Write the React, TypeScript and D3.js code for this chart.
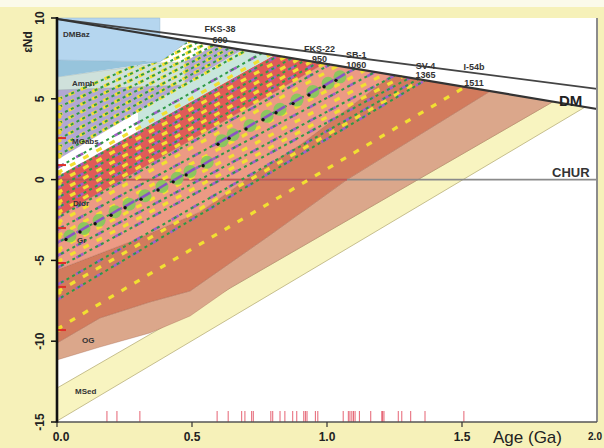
import React from 'react';
import * as d3 from 'd3';

const W = 604;
const H = 448;

// axes
const ageDomain: [number, number] = [0, 2.0];
const epsDomain: [number, number] = [-15, 10];
const xTicks = [0, 0.5, 1.0, 1.5];
const xTickLabels = ['0.0', '0.5', '1.0', '1.5'];
const yTicks = [10, 5, 0, -5, -10, -15];

// reference curves [age Ga, eNd]
const dmLower = [[0, 9.94], [2.0, 4.37]];
const dmUpper = [[0, 9.94], [2.0, 5.61]];
const churLine = [[0, 0], [2.0, 0]];
const churRed = [[0, 0], [1.074, 0]];

// field polygons [age Ga, eNd]
const msedBand = [[0, -12.9], [1.837, 4.82], [1.956, 4.49], [0, -14.94]];
const ogBand = [[0, -10.11], [0.159, -8.56], [0.344, -7.57], [0.493, -6.89], [0.789, -3.43], [1.074, 0], [1.604, 5.47], [1.837, 4.82], [0.641, -6.71], [0.493, -8.44], [0.344, -9.49], [0.159, -10.36], [0, -11.16]];
const orangeBand = [[0, -5.59], [0.27, -3.86], [0.53, -2.0], [0.752, 0.59], [0.9, 2.14], [1.241, 6.48], [1.604, 5.47], [1.074, 0], [0.789, -3.43], [0.493, -6.89], [0.344, -7.57], [0.159, -8.56], [0, -10.11]];
const salmonBand = [[0, -2.31], [0.989, 7.19], [1.241, 6.48], [0.9, 2.14], [0.752, 0.59], [0.53, -2.0], [0.27, -3.86], [0, -5.59]];
const redBand = [[0, 0.16], [0.804, 7.70], [0.989, 7.19], [0, -2.31]];
const aquaBand = [[0.3, 4.20], [0.685, 8.03], [0.804, 7.70], [0.3, 2.97]];
const mgabsBand = [[0, 5.79], [0.344, 6.16], [0.585, 8.31], [0.685, 8.03], [0, 1.21]];
const amphBand = [[0, 6.35], [0.381, 7.22], [0.474, 7.28], [0.474, 5.85], [0, 5.54]];
const darkBlueBand = [[0, 7.40], [0.381, 7.28], [0, 6.35]];
const dmbazBand = [[0, 10], [0.381, 10], [0.381, 8.87], [0.481, 8.51], [0.381, 7.28], [0, 7.40]];

// evolution lines: [eNd at 0 Ga, age where it meets DM]
const gabbroLines = [[4.93, 0.493], [4.43, 0.522], [3.94, 0.552], [3.44, 0.581], [2.95, 0.611], [2.45, 0.641], [1.96, 0.670], [1.46, 0.700]];
const graniteLines = [[0.72, 0.759], [0.10, 0.819], [-0.52, 0.870], [-1.14, 0.919], [-1.76, 0.967], [-2.38, 1.011], [-3.12, 1.104], [-3.92, 1.178], [-4.73, 1.252], [-5.47, 1.307], [-6.52, 1.337], [-7.45, 1.363]];
const yellowLines = [[0.41, 0.79], [-0.21, 0.845], [-0.83, 0.895], [-1.45, 0.943], [-2.07, 0.99], [-2.69, 1.04], [-3.50, 1.14], [-4.36, 1.215], [-5.10, 1.28], [-6.96, 1.35], [-9.25, 1.511]];

// sample points along the two Gr lines (age Ga)
const blobAgesUpper = [0.611, 0.652, 0.715, 0.778, 0.826, 0.889, 0.948, 1.004, 1.048];
const blobAgesLower = [0.048, 0.1, 0.156, 0.215, 0.267, 0.326, 0.389, 0.445, 0.493, 0.556];
const blobLineUpper = [-3.12, 1.104];
const blobLineLower = [-3.92, 1.178];

// present-day values at 0 Ga (red marks)
const redMarks = [2.57, 0.9, -3.0, -5.16, -6.64, -9.31];

// zircon / sample ages on the rug (Ga)
const rugAges = [0.185, 0.222, 0.307, 0.593, 0.634, 0.684, 0.696, 0.721, 0.727, 0.792, 0.799, 0.826, 0.844, 0.873, 0.888, 0.914, 0.920, 0.926, 0.957, 0.966, 1.060, 1.079, 1.085, 1.092, 1.098, 1.104, 1.120, 1.162, 1.203, 1.206, 1.211, 1.264, 1.277, 1.310, 1.363, 1.507];

// sample labels on DM
const samples = [
  { name: 'FKS-38', age: '600', t: 0.6, dx: 1, yName: 32, yAge: 43 },
  { name: 'FKS-22', age: '950', t: 0.95, dx: 6, yName: 52, yAge: 62 },
  { name: 'SB-1', age: '1060', t: 1.06, dx: 13, yName: 58, yAge: 68 },
  { name: 'SV-4', age: '1365', t: 1.365, dx: 0, yName: 69, yAge: 78 },
  { name: 'I-54b', age: '1511', t: 1.511, dx: 9, yName: 70, yAge: 86 },
];

const fieldLabels = [
  { text: 'DMBaz', x: 63, y: 37 },
  { text: 'Amph', x: 72, y: 86 },
  { text: 'MGabs', x: 72, y: 144 },
  { text: 'Dior', x: 73, y: 206 },
  { text: 'Gr', x: 77, y: 243 },
  { text: 'OG', x: 82, y: 343 },
  { text: 'MSed', x: 75, y: 394 },
];

export default function App() {
  const x = d3.scaleLinear().domain(ageDomain).range([57, 597]);
  const y = d3.scaleLinear().domain(epsDomain).range([422, 18]);
  const line = d3.line<number[]>().x(d => x(d[0])).y(d => y(d[1]));
  const poly = (pts: number[][]) => line(pts) + 'Z';
  const dmEps = d3.scaleLinear().domain([dmLower[0][0], dmLower[1][0]]).range([dmLower[0][1], dmLower[1][1]]);
  const evo = (l: number[]) => [[0, l[0]], [l[1], dmEps(l[1])]];
  const onLine = (l: number[], t: number) => l[0] + (dmEps(l[1]) - l[0]) * (t / l[1]);

  const font = 'Arial, "Liberation Sans", Helvetica, sans-serif';
  const bandStroke = { stroke: '#9a5a44', strokeWidth: 0.6, strokeOpacity: 0.5 };

  const blob = (key: string, lineDef: number[], t: number) => {
    const cx = x(t);
    const cy = y(onLine(lineDef, t));
    return (
      <g key={key}>
        <circle cx={cx} cy={cy} r={6.5} fill="#7ccd58" fillOpacity={0.85} />
        <line x1={cx - 5} x2={cx + 5} y1={cy + 3} y2={cy - 3} stroke="#8b54c4" strokeWidth={2.6} />
        <circle cx={cx - 4} cy={cy + 3.5} r={1.7} fill="#111" />
      </g>
    );
  };

  return (
    <svg width={W} height={H} style={{ position: 'absolute', left: 0, top: 0 }} fontFamily={font}>
      <rect x={0} y={0} width={W} height={H} fill="#f6f1b9" />
      <rect x={0} y={0} width={W} height={7} fill="#fbfaea" />
      <rect x={x(0)} y={y(10)} width={x(2) - x(0)} height={y(-15) - y(10)} fill="#ffffff" />

      {/* fields */}
      <path d={poly(msedBand)} fill="#f8f4c0" stroke="#b9b07a" strokeWidth={0.8} />
      <path d={poly(ogBand)} fill="#dba78b" {...bandStroke} />
      <path d={poly(orangeBand)} fill="#d27b5d" {...bandStroke} />
      <path d={poly(salmonBand)} fill="#ec9a84" {...bandStroke} />
      <path d={poly(redBand)} fill="#e05b58" {...bandStroke} />
      <path d={poly(aquaBand)} fill="#c8e6dc" />
      <path d={poly(mgabsBand)} fill="#b2a7d3" />
      <path d={poly(amphBand)} fill="#cfe1db" stroke="#9fb0aa" strokeWidth={0.5} />

      {/* CHUR */}
      <path d={line(churLine)!} stroke="#8a8a8a" strokeWidth={1.6} fill="none" />
      <path d={line(churRed)!} stroke="#d8403c" strokeWidth={1.6} strokeOpacity={0.7} fill="none" />

      {/* evolution lines */}
      {gabbroLines.map((l, i) => (
        <g key={'a' + i}>
          <path d={line(evo(l))!} stroke="#f1e032" strokeWidth={3.2} strokeDasharray="6 7" fill="none" />
          <path d={line(evo(l))!} stroke="#2e9a46" strokeWidth={2} strokeDasharray="3 3.5" strokeDashoffset={4} fill="none" />
        </g>
      ))}
      {yellowLines.map((l, i) => (
        <path key={'y' + i} d={line(evo(l))!} stroke="#f1e032" strokeWidth={3.2} strokeDasharray="6 9" fill="none" />
      ))}
      {graniteLines.map((l, i) => (
        <g key={'b' + i}>
          <path d={line(evo(l))!} stroke="#a160c8" strokeWidth={2.6} strokeDasharray="8 14" fill="none" />
          <path d={line(evo(l))!} stroke="#2e9a46" strokeWidth={2} strokeDasharray="3 3.5" strokeDashoffset={2} fill="none" />
        </g>
      ))}

      {/* Gr samples */}
      {blobAgesUpper.map((t, i) => blob('bu' + i, blobLineUpper, t))}
      {blobAgesLower.map((t, i) => blob('bl' + i, blobLineLower, t))}

      {/* blue fields over lines */}
      <path d={poly(darkBlueBand)} fill="#97c4dc" />
      <path d={poly(dmbazBand)} fill="#b5d6ef" stroke="#8fb3cc" strokeWidth={0.5} />

      {/* DM */}
      <path d={line(dmUpper)!} stroke="#444" strokeWidth={1.8} fill="none" />
      <path d={line(dmLower)!} stroke="#333" strokeWidth={2.2} fill="none" />

      {/* left markers */}
      {[...gabbroLines, ...yellowLines].map((l, i) => (
        <circle key={'ly' + i} cx={x(0) + 2} cy={y(l[0])} r={2.6} fill="#f0d52a" />
      ))}
      {redMarks.map((e, i) => (
        <line key={'rm' + i} x1={x(0)} x2={x(0) + 9} y1={y(e)} y2={y(e)} stroke="#e0302a" strokeWidth={2} />
      ))}

      {/* rug */}
      {rugAges.map((t, i) => (
        <line key={'r' + i} x1={x(t)} x2={x(t)} y1={y(-15)} y2={y(-15) - 11} stroke="#e0485a" strokeWidth={1} strokeOpacity={0.85} />
      ))}

      {/* frame and axes */}
      <line x1={x(2)} x2={x(2)} y1={y(10)} y2={y(-15)} stroke="#8c8c8c" strokeWidth={2} />
      <line x1={x(0)} x2={x(2)} y1={y(-15)} y2={y(-15)} stroke="#555" strokeWidth={1.6} />
      <line x1={x(0)} x2={x(0)} y1={y(10) - 1} y2={y(-15) + 1} stroke="#111" strokeWidth={2.6} />
      {yTicks.map(t => (
        <g key={'yt' + t}>
          <line x1={x(0) - 6} x2={x(0)} y1={y(t)} y2={y(t)} stroke="#111" strokeWidth={1.5} />
          <text transform={`translate(44,${y(t)}) rotate(-90)`} textAnchor="middle" fontSize={12} fontWeight="bold" fill="#222">{t}</text>
        </g>
      ))}
      {xTicks.map((t, i) => (
        <g key={'xt' + t}>
          <line x1={x(t)} x2={x(t)} y1={y(-15)} y2={y(-15) + 5} stroke="#333" strokeWidth={1.2} />
          <text x={x(t) + (i === 0 ? 4 : 0)} y={441} textAnchor="middle" fontSize={12} fontWeight="bold" fill="#222">{xTickLabels[i]}</text>
        </g>
      ))}
      <text x={595} y={440} textAnchor="middle" fontSize={10} fontWeight="bold" fill="#222">2.0</text>
      <text x={493} y={443} fontSize={17} fill="#222">Age (Ga)</text>
      <text transform="translate(32,42) rotate(-90)" textAnchor="middle" fontSize={12} fontWeight="bold" fill="#222">εNd</text>

      {/* labels */}
      {fieldLabels.map(f => (
        <text key={f.text} x={f.x} y={f.y} fontSize={8} fontWeight="bold" fill="#333">{f.text}</text>
      ))}
      {samples.map(s => (
        <g key={s.name} fontSize={9} fontWeight="bold" fill="#333" textAnchor="middle">
          <text x={x(s.t) + s.dx} y={s.yName}>{s.name}</text>
          <text x={x(s.t) + s.dx} y={s.yAge}>{s.age}</text>
        </g>
      ))}
      <text x={559} y={106} fontSize={15} fontWeight="bold" fill="#222">DM</text>
      <text x={552} y={177} fontSize={13} fontWeight="bold" fill="#333">CHUR</text>
    </svg>
  );
}
